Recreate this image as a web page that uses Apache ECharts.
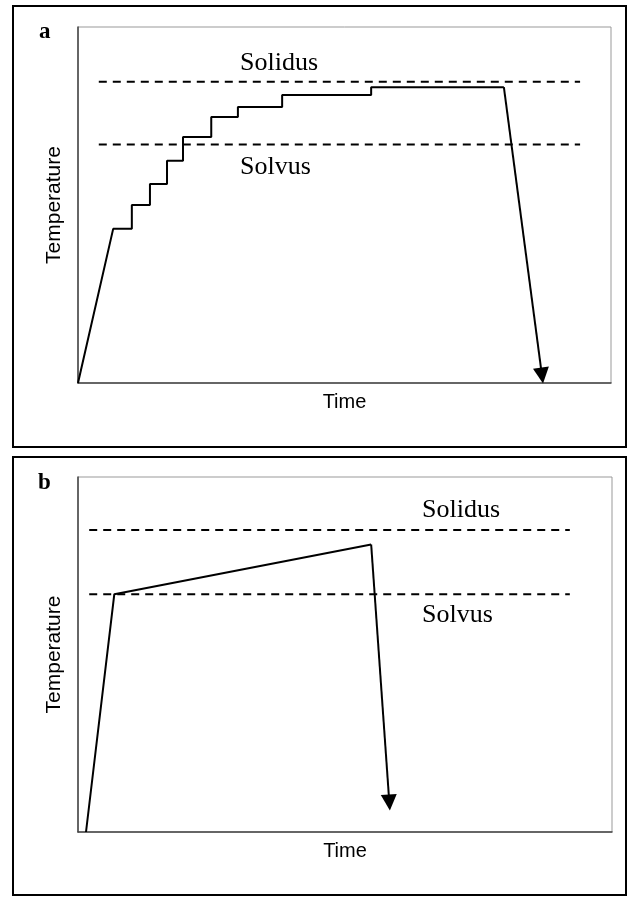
<!DOCTYPE html>
<html>
<head>
<meta charset="utf-8">
<script src="https://cdn.jsdelivr.net/npm/echarts@6/dist/echarts.min.js"></script>
<style>
html,body{margin:0;padding:0;background:#fff;}
#chart{width:631px;height:897px;}
</style>
</head>
<body>
<div id="chart"></div>
<script>
// ---- Data (arbitrary units: time 0-100, temperature 0-100) ----
// Panel a: stepwise heating, then cooling
const timeA = [0, 6.6, 10.1, 10.1, 13.5, 13.5, 16.7, 16.7, 19.7, 19.7, 25.0, 25.0, 30.0, 30.0, 38.3, 38.3, 55.0, 55.0, 79.9];
const tempA = [0, 43.3, 43.3, 50.0, 50.0, 55.9, 55.9, 62.4, 62.4, 69.1, 69.1, 74.7, 74.7, 77.5, 77.5, 80.9, 80.9, 83.1, 83.1];
const coolEndA = [87.05, 2.1];
const solidusA = 84.6;
const solvusA = 67.0;
const dashRangeA = [3.9, 94.2];

// Panel b: fast heating, slow ramp, then cooling
const timeB = [1.5, 6.8, 54.9];
const tempB = [0, 67.0, 81.0];
const coolEndB = [58.3, 8.3];
const solidusB = 85.1;
const solvusB = 67.0;
const dashRangeB = [2.1, 92.1];

const panelLetters = ['a', 'b'];
const xTitle = 'Time';
const yTitle = 'Temperature';
const solidusText = 'Solidus';
const solvusText = 'Solvus';

// ---- Build option ----
const SERIF = 'Liberation Serif, Times New Roman, serif';
const SANS = 'Liberation Sans, Arial, sans-serif';

function pairs(xs, ys) { return xs.map((x, i) => [x, ys[i]]); }

function axisX(gi) {
  return {
    type: 'value', gridIndex: gi, min: 0, max: 100,
    name: xTitle, nameLocation: 'middle', nameGap: 19,
    nameTextStyle: { fontFamily: SANS, fontSize: 20, color: '#000', verticalAlign: 'middle' },
    axisLine: { show: true, lineStyle: { color: '#444', width: 1.5 } },
    axisTick: { show: false }, axisLabel: { show: false }, splitLine: { show: false }
  };
}
function axisY(gi) {
  return {
    type: 'value', gridIndex: gi, min: 0, max: 100,
    name: yTitle, nameLocation: 'middle', nameGap: 24,
    nameTextStyle: { fontFamily: SANS, fontSize: 21, color: '#000', verticalAlign: 'middle' },
    axisLine: { show: true, lineStyle: { color: '#444', width: 1.5 } },
    axisTick: { show: false }, axisLabel: { show: false }, splitLine: { show: false }
  };
}
function dashSeries(gi, name, y, range) {
  return {
    type: 'line', name: name, xAxisIndex: gi, yAxisIndex: gi,
    data: [[range[0], y], [range[1], y]],
    symbol: 'none', silent: true,
    lineStyle: { color: '#000', width: 2, type: [8, 6] }
  };
}
function pathSeries(gi, xs, ys, end) {
  const last = [xs[xs.length - 1], ys[ys.length - 1]];
  return {
    type: 'line', name: 'path' + gi, xAxisIndex: gi, yAxisIndex: gi,
    data: pairs(xs, ys), symbol: 'none', silent: true,
    lineStyle: { color: '#000', width: 2 },
    z: 5,
    markLine: {
      silent: true,
      symbol: ['none', 'triangle'],
      symbolSize: 16,
      label: { show: false },
      lineStyle: { color: '#000', width: 2, type: 'solid' },
      itemStyle: { color: '#000' },
      emphasis: { disabled: true },
      animation: false,
      data: [[{ coord: last }, { coord: end }]]
    }
  };
}

const option = {
  animation: false,
  backgroundColor: '#fff',
  grid: [
    { left: 78, top: 27, width: 533, height: 356, show: true, borderColor: '#999', borderWidth: 1 },
    { left: 78, top: 477, width: 534, height: 355, show: true, borderColor: '#999', borderWidth: 1 }
  ],
  xAxis: [axisX(0), axisX(1)],
  yAxis: [axisY(0), axisY(1)],
  series: [
    dashSeries(0, solidusText, solidusA, dashRangeA),
    dashSeries(0, solvusText, solvusA, dashRangeA),
    pathSeries(0, timeA, tempA, coolEndA),
    dashSeries(1, solidusText, solidusB, dashRangeB),
    dashSeries(1, solvusText, solvusB, dashRangeB),
    pathSeries(1, timeB, tempB, coolEndB)
  ],
  graphic: [
    { type: 'rect', shape: { x: 13, y: 6, width: 613, height: 441 }, style: { fill: 'none', stroke: '#000', lineWidth: 2 }, silent: true },
    { type: 'rect', shape: { x: 13, y: 457, width: 613, height: 438 }, style: { fill: 'none', stroke: '#000', lineWidth: 2 }, silent: true },
    { type: 'text', style: { x: 39, y: 32, text: panelLetters[0], font: 'bold 23px ' + SERIF, fill: '#000', verticalAlign: 'middle' }, silent: true },
    { type: 'text', style: { x: 38, y: 483, text: panelLetters[1], font: 'bold 23px ' + SERIF, fill: '#000', verticalAlign: 'middle' }, silent: true },
    { type: 'text', style: { x: 240, y: 63, text: solidusText, font: '26px ' + SERIF, fill: '#000', verticalAlign: 'middle' }, silent: true },
    { type: 'text', style: { x: 240, y: 167, text: solvusText, font: '26px ' + SERIF, fill: '#000', verticalAlign: 'middle' }, silent: true },
    { type: 'text', style: { x: 422, y: 510, text: solidusText, font: '26px ' + SERIF, fill: '#000', verticalAlign: 'middle' }, silent: true },
    { type: 'text', style: { x: 422, y: 615, text: solvusText, font: '26px ' + SERIF, fill: '#000', verticalAlign: 'middle' }, silent: true }
  ]
};

const chart = echarts.init(document.getElementById('chart'), null, { renderer: 'canvas' });
chart.setOption(option);
</script>
</body>
</html>
